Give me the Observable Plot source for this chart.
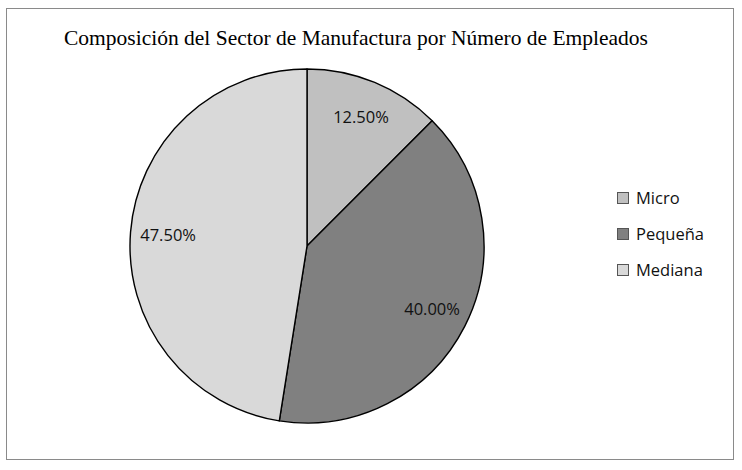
<!DOCTYPE html>
<html><head><meta charset="utf-8">
<script src="https://cdn.jsdelivr.net/npm/d3@7"></script>
<script src="https://cdn.jsdelivr.net/npm/@observablehq/plot@0.6"></script>
<style>
body{margin:0;background:#fff}
#wrap{position:relative;width:742px;height:470px;overflow:hidden}
#frame{position:absolute;left:6px;top:8px;width:728px;height:452px;border:1px solid #8a8a8a;box-sizing:border-box;pointer-events:none}
#title{position:absolute;left:0;width:712px;top:26px;text-align:center;font-family:"Liberation Serif",serif;font-size:21.5px;color:#000;white-space:nowrap}
#chart{position:absolute;left:0;top:0}
#legend{position:absolute;left:617px;top:186px;font-family:"Open Sans",sans-serif;font-size:16.5px;color:#111}
.item{height:36px;display:flex;align-items:flex-start}
.sw{width:10px;height:10px;border:1px solid #555;margin-top:6px;margin-right:7px}
</style></head>
<body>
<div id="wrap">
  <div id="chart"></div>
  <div id="title"></div>
  <div id="legend"></div>
  <div id="frame"></div>
</div>
<script>
const title = "Composición del Sector de Manufactura por Número de Empleados";
const categories = ["Micro", "Pequeña", "Mediana"];
const values = [12.5, 40.0, 47.5];
const colors = ["#c0c0c0", "#808080", "#d9d9d9"];

document.getElementById("title").textContent = title;

const pie = d3.pie().sort(null).value(d => d.value);
const slices = pie(categories.map((c, i) => ({category: c, value: values[i], color: colors[i]})));
const total = d3.sum(values);
const labelR = 0.79;
const labels = slices.map(s => {
  const mid = (s.startAngle + s.endAngle) / 2;
  return {x: labelR * Math.sin(mid), y: labelR * Math.cos(mid), text: d3.format(".2%")(s.data.value / total)};
});

const plot = Plot.plot({
  width: 742, height: 470,
  marginLeft: 130, marginRight: 258, marginTop: 69, marginBottom: 47,
  x: {domain: [-1, 1], axis: null},
  y: {domain: [-1, 1], axis: null},
  style: {background: "transparent", overflow: "visible"},
  marks: [
    (index, scales, values, dimensions) => {
      const cx = scales.x(0), cy = scales.y(0);
      const r = scales.x(1) - scales.x(0);
      const arc = d3.arc().innerRadius(0).outerRadius(r);
      const g = d3.create("svg:g").attr("transform", `translate(${cx},${cy})`);
      g.selectAll("path").data(slices).join("path")
        .attr("d", arc)
        .attr("fill", d => d.data.color)
        .attr("stroke", "#000")
        .attr("stroke-width", 1.4)
        .attr("stroke-linejoin", "round");
      return g.node();
    },
    Plot.text(labels, {x: "x", y: "y", text: "text", fontSize: 16.5, fontFamily: "Open Sans", fill: "#111"})
  ]
});
document.getElementById("chart").appendChild(plot);

const legend = document.getElementById("legend");
categories.forEach((c, i) => {
  const item = document.createElement("div");
  item.className = "item";
  const sw = document.createElement("div");
  sw.className = "sw";
  sw.style.background = colors[i];
  const t = document.createElement("span");
  t.textContent = c;
  item.appendChild(sw); item.appendChild(t);
  legend.appendChild(item);
});
</script>
</body></html>
